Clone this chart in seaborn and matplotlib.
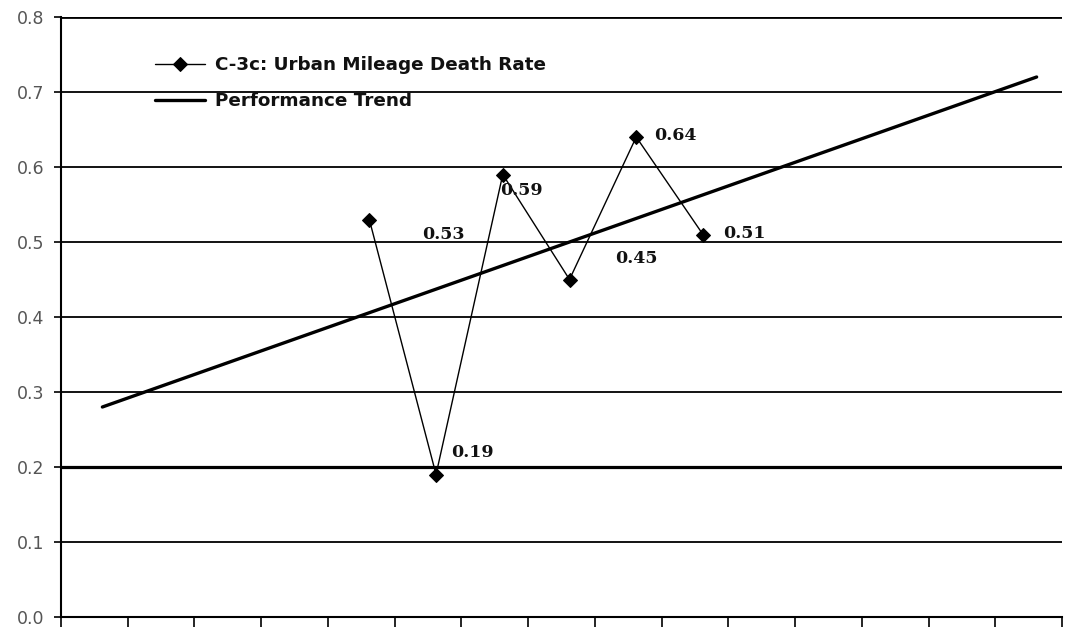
import matplotlib
matplotlib.use("Agg")
import matplotlib.pyplot as plt
import seaborn as sns
import numpy as np
import pandas as pd

# ---- data ----
n_categories = 15
rate_x = [4, 5, 6, 7, 8, 9]
rate_y = [0.53, 0.19, 0.59, 0.45, 0.64, 0.51]
rate_labels = ["0.53", "0.19", "0.59", "0.45", "0.64", "0.51"]
trend_x = [0, 14]
trend_y = [0.28, 0.72]
y_ticks = [0.0, 0.1, 0.2, 0.3, 0.4, 0.5, 0.6, 0.7, 0.8]
y_tick_labels = ["0.0", "0.1", "0.2", "0.3", "0.4", "0.5", "0.6", "0.7", "0.8"]
series_names = ["C-3c: Urban Mileage Death Rate", "Performance Trend"]

# label offsets (pixels) relative to each point
label_dx = [74, 36, 19, 67, 39, 41]
label_dy = [-15, 22, -16, 21, 2, 1]

sns.set_style("white")
plt.rcParams["font.family"] = ["DejaVu Sans"]

fig = plt.figure(figsize=(10.75, 6.27), dpi=100)
ax = fig.add_axes([61 / 1075, 1 - 617 / 627, (1062 - 61) / 1075, 600 / 627])

df_rate = pd.DataFrame({"x": rate_x, "y": rate_y})
df_trend = pd.DataFrame({"x": trend_x, "y": trend_y})

sns.lineplot(data=df_rate, x="x", y="y", ax=ax, color="black", linewidth=1.0,
             marker="D", markersize=7, markeredgecolor="black",
             label=series_names[0])
sns.lineplot(data=df_trend, x="x", y="y", ax=ax, color="black", linewidth=2.4,
             label=series_names[1])

for x, y, t, dx, dy in zip(rate_x, rate_y, rate_labels, label_dx, label_dy):
    ax.annotate(t, (x, y), xytext=(dx, dy), textcoords="offset pixels",
                ha="center", va="center", fontsize=12.5, fontweight="bold",
                family=["DejaVu Serif"], color="#111111")

ax.set_xlim(-0.62, n_categories - 0.62)
ax.set_ylim(0, 0.8)
ax.set_xticks(np.arange(n_categories + 1) - 0.62)
ax.set_xticklabels([])
ax.set_yticks(y_ticks)
ax.set_yticklabels(y_tick_labels, fontsize=12.5, color="#555555")
ax.set_xlabel("")
ax.set_ylabel("")

ax.yaxis.grid(True, color="black", linewidth=1.3)
ax.xaxis.grid(False)
gl = ax.get_ygridlines()
gl[2].set_linewidth(2.3)
gl[8].set_linewidth(2.0)
ax.set_axisbelow(True)

for s in ["top", "right"]:
    ax.spines[s].set_visible(False)
for s in ["left", "bottom"]:
    ax.spines[s].set_color("black")
    ax.spines[s].set_linewidth(1.5)

ax.tick_params(axis="x", direction="out", length=7, width=1.2, colors="black",
               bottom=True)
ax.tick_params(axis="y", direction="out", length=5, width=1.2, color="black",
               pad=7, left=True)

leg = ax.legend(loc="upper left", bbox_to_anchor=(0.094, 0.935), frameon=False,
                handlelength=2.7, handletextpad=0.55,
                labelspacing=1.0, borderpad=0, borderaxespad=0,
                prop={"family": ["DejaVu Sans"], "weight": "bold", "size": 13.2})
for t in leg.get_texts():
    t.set_color("#111111")

fig.savefig("out.png", dpi=100, facecolor="white")
